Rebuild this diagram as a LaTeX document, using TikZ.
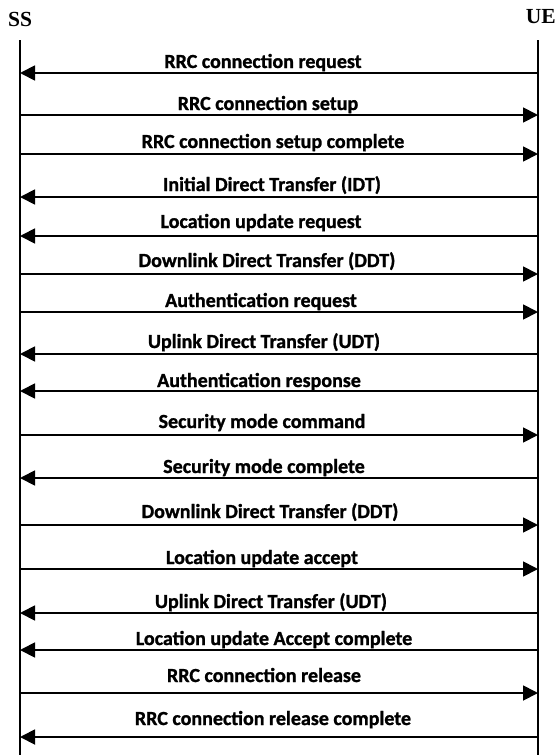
\documentclass[tikz,border=0pt]{standalone}
\usepackage{fontspec}
\setmainfont{Carlito}[BoldFeatures={FakeBold=1.2}]
\newfontfamily\headfont{Liberation Serif}
\usetikzlibrary{arrows.meta}
\tikzset{
  msg/.style={line width=1.8pt,-{Triangle[length=15pt,width=15pt]}},
  lifeline/.style={line width=1.8pt},
  lbl/.style={anchor=base,inner sep=0pt,font=\bfseries\fontsize{20}{22}\selectfont},
  head/.style={inner sep=0pt,font=\headfont\bfseries\fontsize{21.5}{23}\selectfont}
}
\begin{document}
\begin{tikzpicture}[x=1pt,y=-1pt]
\useasboundingbox (0,0) rectangle (557,755);
\node[head,anchor=base west] (ss) at (8,26) {SS};
\node[head,anchor=base east] (ue) at (556,23) {UE};
\coordinate (sstop) at (20,40);
\coordinate (ssbot) at (20,755);
\coordinate (uetop) at (538,40);
\coordinate (uebot) at (538,755);
\draw[lifeline] (sstop) -- (ssbot);
\draw[lifeline] (uetop) -- (uebot);
\foreach \i/\ay/\tx/\ty/\d/\t in {
  1/73/263/68/l/{RRC connection request},
  2/115/268/110/r/{RRC connection setup},
  3/154/273/148/r/{RRC connection setup complete},
  4/197/272/191/l/{Initial Direct Transfer (IDT)},
  5/236/261/228/l/{Location update request},
  6/274/267/267/r/{Downlink Direct Transfer (DDT)},
  7/312/261/307/r/{Authentication request},
  8/354/264/348/l/{Uplink Direct Transfer (UDT)},
  9/391/259/387/l/{Authentication response},
  10/435/262/428/r/{Security mode command},
  11/478/264/473/l/{Security mode complete},
  12/525/270/518/r/{Downlink Direct Transfer (DDT)},
  13/569/262/564/r/{Location update accept},
  14/613/271/608/l/{Uplink Direct Transfer (UDT)},
  15/650/274/645/l/{Location update Accept complete},
  16/693/264/682/r/{RRC connection release},
  17/737/273/725/l/{RRC connection release complete}}
{
  \coordinate (s\i) at (20,\ay);
  \coordinate (u\i) at (538,\ay);
  \node[lbl] (t\i) at (\tx,\ty) {\t};
  \if\d l
    \draw[msg] (u\i) -- (s\i);
  \else
    \draw[msg] (s\i) -- (u\i);
  \fi
}
\end{tikzpicture}
\end{document}
